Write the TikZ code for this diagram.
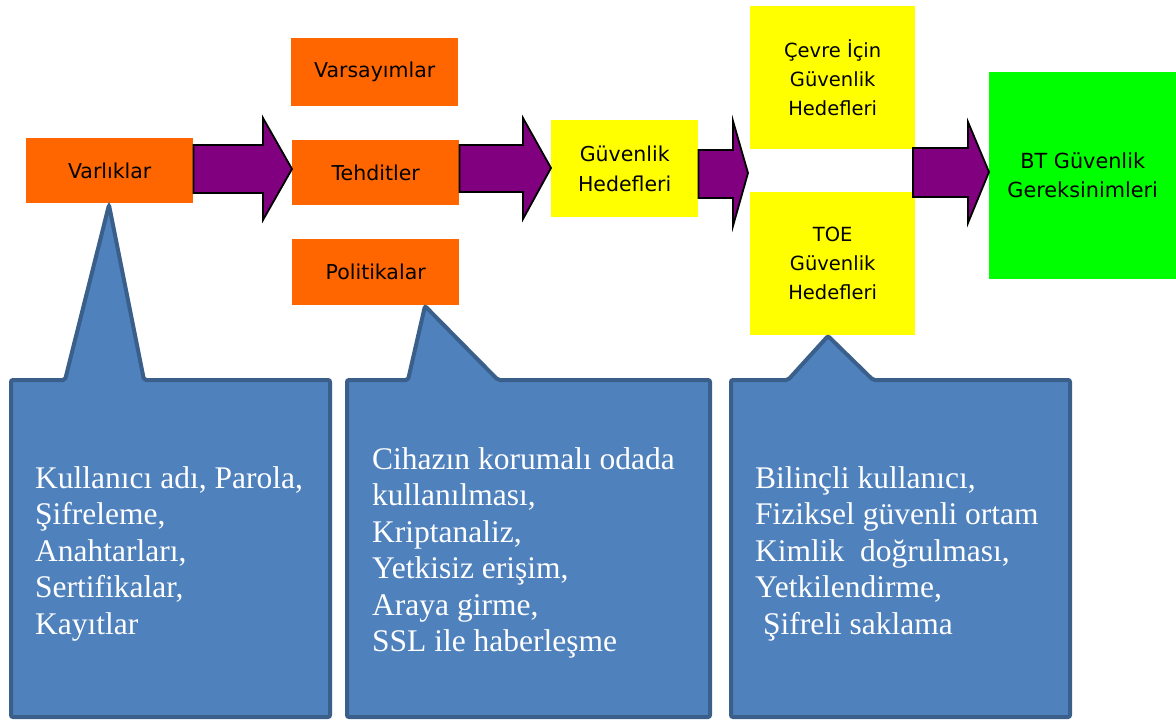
\documentclass[tikz,border=0pt]{standalone}
\usepackage{fontspec}
\setmainfont{Liberation Serif}
\newfontfamily\boxfont{DejaVu Sans}
\definecolor{orng}{HTML}{FF6600}
\definecolor{yllw}{HTML}{FFFF00}
\definecolor{grn}{HTML}{00FF00}
\definecolor{purp}{HTML}{800080}
\definecolor{cfill}{HTML}{4F81BD}
\definecolor{cborder}{HTML}{3A5F8B}
\begin{document}
\begin{tikzpicture}[x=1pt,y=-1pt,
  box/.style={rectangle, inner sep=0pt, anchor=north west, align=center,
    font=\boxfont\fontsize{20.5}{30}\selectfont},
  smallbox/.style={box, font=\boxfont\fontsize{19.5}{29}\selectfont},
  blk/.style={fill=purp, draw=black, line width=1.8pt, line join=miter},
  callout/.style={fill=cfill, draw=cborder, line width=4pt, rounded corners=2pt},
  ctext/.style={inner sep=0pt, anchor=north west, align=left, text=white,
    font=\fontsize{31.5}{36.5}\selectfont}]
\useasboundingbox (0,0) rectangle (1176,720);

% boxes
\node[box, fill=orng, minimum width=167pt, minimum height=65pt] (varliklar) at (26,138) {Varlıklar};
\node[box, fill=orng, minimum width=167pt, minimum height=68pt] (varsayimlar) at (291,38) {Varsayımlar};
\node[box, fill=orng, minimum width=167pt, minimum height=65pt] (tehditler) at (292,140) {Tehditler};
\node[box, fill=orng, minimum width=167pt, minimum height=66pt] (politikalar) at (292,239) {Politikalar};
\node[box, fill=yllw, minimum width=147pt, minimum height=97pt] (guvenlik) at (551,120) {Güvenlik\\Hedefleri};
\node[smallbox, fill=yllw, minimum width=165pt, minimum height=143pt] (cevre) at (750,6) {Çevre İçin\\Güvenlik\\Hedefleri};
\node[smallbox, fill=yllw, minimum width=165pt, minimum height=143pt] (toe) at (750,192) {TOE\\Güvenlik\\Hedefleri};
\node[box, fill=grn, minimum width=187pt, minimum height=207pt, font=\boxfont\fontsize{20.8}{29}\selectfont] (bt) at (989,72) {BT Güvenlik\\Gereksinimleri};

% block arrows
\draw[blk] (varliklar.east |- 0,145) -- (263,145) -- (263,118) -- (tehditler.west |- 0,169)
  -- (263,220) -- (263,193) -- (varliklar.east |- 0,193) -- cycle;
\draw[blk] (tehditler.east |- 0,145) -- (523,145) -- (523,118) -- (guvenlik.west |- 0,168)
  -- (523,219) -- (523,192) -- (tehditler.east |- 0,192) -- cycle;
\coordinate (tip3) at (748,173);
\draw[blk] (guvenlik.east |- 0,150) -- (733,150) -- (733,121) -- (tip3)
  -- (733,226) -- (733,198) -- (guvenlik.east |- 0,198) -- cycle;
\draw[blk] (913,148) -- (968,148) -- (968,122) -- (bt.west |- 0,172)
  -- (968,223) -- (968,197) -- (913,197) -- cycle;

% callouts
\coordinate (p1) at (109,205);
\coordinate (p2) at (425,306);
\coordinate (p3) at (828,336);
\draw[callout] (11,380) -- (65,380) -- (p1) -- (144,380) -- (330,380) -- (330,717) -- (11,717) -- cycle;
\draw[callout] (347,380) -- (408,380) -- (p2) -- (498,380) -- (710,380) -- (710,717) -- (347,717) -- cycle;
\draw[callout] (731,380) -- (788,380) -- (p3) -- (873,380) -- (1070,380) -- (1070,717) -- (731,717) -- cycle;

\node[ctext] (t1) at (35,462.5) {\strut Kullanıcı adı, Parola,\\Şifreleme,\\Anahtarları,\\Sertifikalar,\\Kayıtlar};
\node[ctext] (t2) at (372,443.5) {\strut Cihazın korumalı odada\\kullanılması,\\Kriptanaliz,\\Yetkisiz erişim,\\Araya girme,\\SSL ile haberleşme};
\node[ctext] (t3) at (755,462.5) {\strut Bilinçli kullanıcı,\\Fiziksel güvenli ortam\\Kimlik\ \ doğrulması,\\Yetkilendirme,\\\hspace*{0.25em}Şifreli saklama};
\end{tikzpicture}
\end{document}
